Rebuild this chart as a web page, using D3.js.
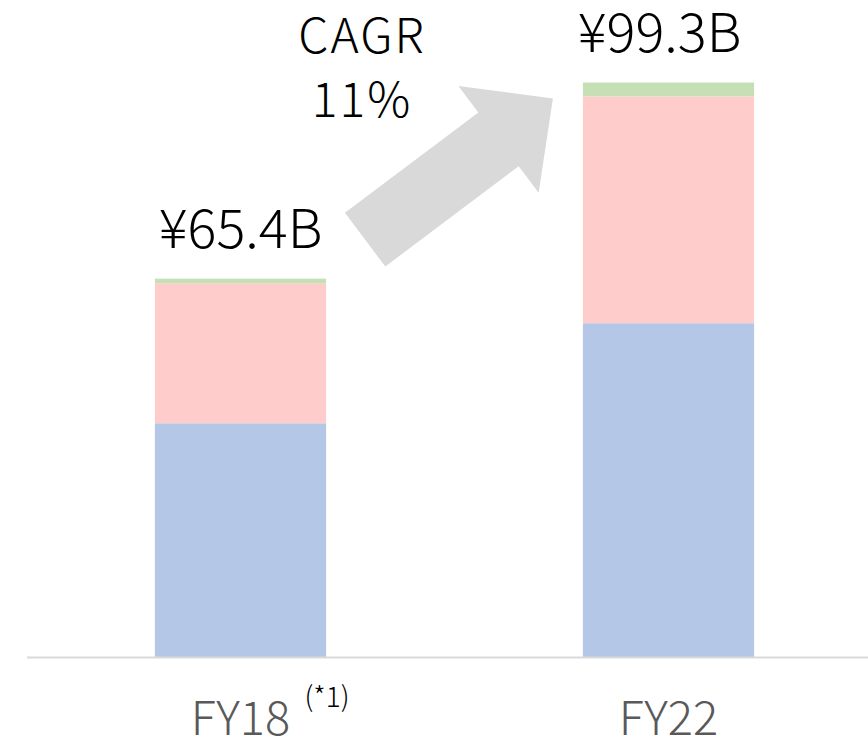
<!DOCTYPE html>
<html>
<head>
<meta charset="utf-8">
<script src="https://cdn.jsdelivr.net/npm/d3@7"></script>
<style>
  body { margin: 0; background: #fff; }
  text { font-family: "Noto Sans CJK JP", "Noto Sans", sans-serif; font-weight: 300; }
</style>
</head>
<body>
<div id="chart"></div>
<script>
var width = 868, height = 739;

var categories = ["FY18", "FY22"];
var footnotes = ["(*1)", ""];
var seriesBlue = [40.4, 57.7];
var seriesPink = [24.2, 39.2];
var seriesGreen = [0.8, 2.4];
var totalLabels = ["¥65.4B", "¥99.3B"];
var cagrLines = ["CAGR", "11%"];

var colors = ["#b4c7e7", "#ffcccc", "#c5e0b4"];

var rows = categories.map(function(c, i) {
    return { cat: c, blue: seriesBlue[i], pink: seriesPink[i], green: seriesGreen[i] };
});
var stack = d3.stack().keys(["blue", "pink", "green"])(rows);

var svg = d3.select("#chart").append("svg")
    .attr("width", width)
    .attr("height", height);

var baseY = 657;

var xScale = d3.scaleBand()
    .domain(categories)
    .range([26.5, 882.5])
    .paddingInner(0.6)
    .paddingOuter(0.3);

var yScale = d3.scaleLinear()
    .domain([0, 100])
    .range([baseY, baseY - 578.5]);

// bars
svg.append("g")
    .selectAll("g")
    .data(stack).enter()
    .append("g")
    .attr("fill", function(d, i) { return colors[i]; })
    .selectAll("rect")
    .data(function(d) { return d; }).enter()
    .append("rect")
    .attr("x", function(d) { return xScale(d.data.cat); })
    .attr("width", xScale.bandwidth())
    .attr("y", function(d) { return yScale(d[1]); })
    .attr("height", function(d) { return yScale(d[0]) - yScale(d[1]); });

// baseline
svg.append("line")
    .attr("x1", 27).attr("x2", width)
    .attr("y1", baseY + 0.5).attr("y2", baseY + 0.5)
    .attr("stroke", "#d9d9d9")
    .attr("stroke-width", 2);

// category labels
var xAxis = svg.append("g");
xAxis.selectAll("text.cat")
    .data(categories).enter()
    .append("text")
    .attr("class", "cat")
    .attr("x", function(d) { return xScale(d) + xScale.bandwidth() / 2; })
    .attr("y", 735)
    .attr("text-anchor", "middle")
    .attr("fill", "#595959")
    .style("font-size", "47px")
    .text(function(d) { return d; });

xAxis.selectAll("text.note")
    .data(footnotes).enter()
    .append("text")
    .attr("class", "note")
    .attr("x", function(d, i) { return xScale(categories[i]) + xScale.bandwidth() / 2 + 64; })
    .attr("y", 707)
    .attr("fill", "#000")
    .style("font-size", "28px")
    .text(function(d) { return d; });

// totals
var totals = categories.map(function(c, i) { return seriesBlue[i] + seriesPink[i] + seriesGreen[i]; });
svg.selectAll("text.total")
    .data(totals).enter()
    .append("text")
    .attr("class", "total")
    .attr("x", function(d, i) { return xScale(categories[i]) + xScale.bandwidth() / 2 - (i ? 9 : 0); })
    .attr("y", function(d) { return yScale(d) - 31; })
    .attr("text-anchor", "middle")
    .attr("fill", "#000")
    .style("font-size", "54px")
    .text(function(d, i) { return totalLabels[i]; });

// CAGR arrow
var x0 = xScale(categories[0]) + xScale.bandwidth() + 39,
    y0 = yScale(totals[0]) - 39,
    x1 = xScale(categories[1]) - 30,
    y1 = yScale(totals[1]) + 16;
var dx = x1 - x0, dy = y1 - y0, len = Math.sqrt(dx * dx + dy * dy);
var ux = dx / len, uy = dy / len, nx = -uy, ny = ux;
var shaftW = 33.6, headW = 66.8, headL = 68;
var bx = x1 - ux * headL, by = y1 - uy * headL;
var pts = [
    [x0 + nx * shaftW, y0 + ny * shaftW],
    [bx + nx * shaftW, by + ny * shaftW],
    [bx + nx * headW, by + ny * headW],
    [x1, y1],
    [bx - nx * headW, by - ny * headW],
    [bx - nx * shaftW, by - ny * shaftW],
    [x0 - nx * shaftW, y0 - ny * shaftW]
];
svg.append("polygon")
    .attr("points", pts.map(function(p) { return p.join(","); }).join(" "))
    .attr("fill", "#d9d9d9");

svg.selectAll("text.cagr")
    .data(cagrLines).enter()
    .append("text")
    .attr("class", "cagr")
    .attr("x", 362)
    .attr("y", function(d, i) { return 53 + i * 64; })
    .attr("text-anchor", "middle")
    .attr("fill", "#000")
    .style("font-size", "48px")
    .style("letter-spacing", "2px")
    .text(function(d) { return d; });
</script>
</body>
</html>
